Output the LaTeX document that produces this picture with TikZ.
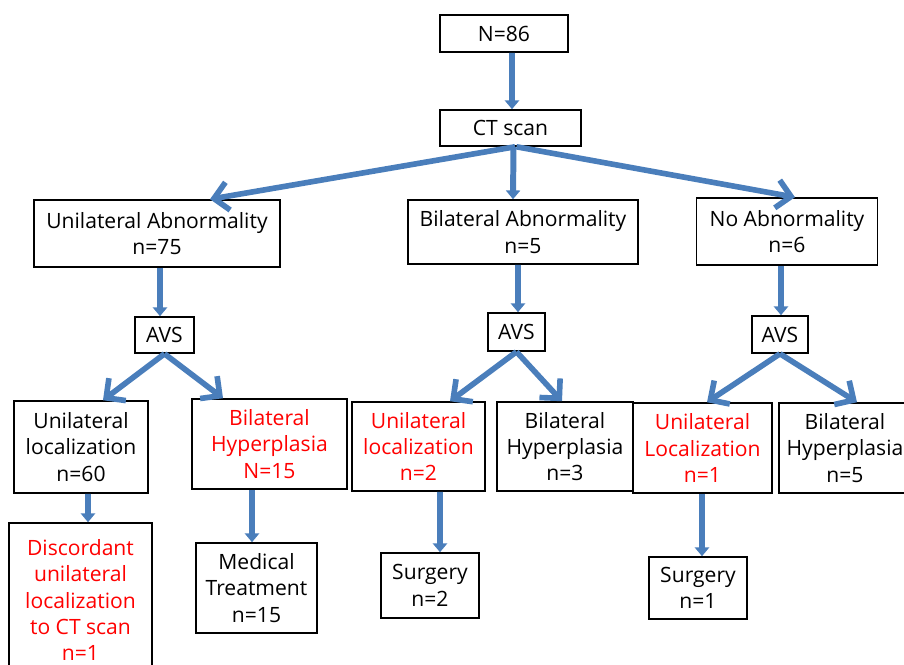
\documentclass[tikz,border=0pt]{standalone}
\usepackage{fontspec}
\setmainfont{Open Sans}
\usetikzlibrary{arrows.meta}
\definecolor{flowblue}{RGB}{74,126,187}
\definecolor{alertred}{RGB}{255,0,0}

\begin{document}
\begin{tikzpicture}[x=0.02cm, y=-0.02cm,
    box/.style={draw, line width=0.9pt, align=center, inner sep=0pt, font=\fontsize{12}{15}\selectfont},
    hot/.style={box, text=alertred},
    down/.style={draw=flowblue, line width=3.4pt, -{Triangle[length=5pt, width=8pt]}},
    fan/.style={draw=flowblue, line width=3.2pt, -{Straight Barb[length=8pt, width=16pt]}}]
    \useasboundingbox (0, 0) rectangle (904, 664);

    % nodes: top
    \node[box, minimum width=2.56cm, minimum height=0.74cm] (n) at (504, 33.5) {N=86};
    \node[box, minimum width=2.82cm, minimum height=0.72cm] (ct) at (510.5, 128) {CT scan};
    % nodes: ua ba na
    \node[box, minimum width=4.92cm, minimum height=1.34cm] (ua) at (157, 233.5) {Unilateral Abnormality\\n=75};
    \node[box, minimum width=4.6cm, minimum height=1.28cm] (ba) at (523, 232) {Bilateral Abnormality\\n=5};
    \node[box, minimum width=3.62cm, minimum height=1.34cm] (na) at (787, 231.5) {No Abnormality\\n=6};
    % nodes: avs
    \node[box, minimum width=1.18cm, minimum height=0.72cm] (avs1) at (164.5, 335) {AVS};
    \node[box, minimum width=1.14cm, minimum height=0.76cm] (avs2) at (516.5, 332) {AVS};
    \node[box, minimum width=1.12cm, minimum height=0.74cm] (avs3) at (780, 334.5) {AVS};
    % nodes: localization row
    \node[box, minimum width=2.68cm, minimum height=1.84cm] (ul1) at (81, 447) {Unilateral\\localization\\n=60};
    \node[hot, minimum width=3.1cm, minimum height=1.8cm] (bh1) at (269.5, 444) {Bilateral\\Hyperplasia\\N=15};
    \node[hot, minimum width=2.66cm, minimum height=1.78cm] (ul2) at (418.5, 446.5) {Unilateral\\localization\\n=2};
    \node[box, minimum width=2.72cm, minimum height=1.78cm] (bh2) at (565, 446.5) {Bilateral\\Hyperplasia\\n=3};
    \node[hot, minimum width=2.78cm, minimum height=1.8cm] (ul3) at (702.5, 448) {Unilateral\\Localization\\n=1};
    \node[box, minimum width=2.64cm, minimum height=1.8cm] (bh3) at (845, 448) {Bilateral\\Hyperplasia\\n=5};
    % nodes: outcome row
    \node[hot, minimum width=2.86cm, minimum height=3.08cm] (dc) at (80.5, 600) {Discordant\\unilateral\\localization\\to CT scan\\n=1};
    \node[box, minimum width=2.42cm, minimum height=1.8cm] (mt) at (256.5, 588) {Medical\\Treatment\\n=15};
    \node[box, minimum width=1.96cm, minimum height=1.3cm] (s2) at (430, 585.5) {Surgery\\n=2};
    \node[box, minimum width=1.96cm, minimum height=1.24cm] (s1) at (698, 588) {Surgery\\n=1};

    % edges: n-ct, ct-ua, ct-ba, ct-na
    \draw[down] ([shift={(8,0)}]n.south) -- ([shift={(1.5,0)}]ct.north);
    \draw[fan] ([shift={(4.5,0)}]ct.south) -- ([shift={(53,0)}]ua.north);
    \draw[down] ([shift={(3,0)}]ct.south) -- ([shift={(-10,0)}]ba.north);
    \draw[fan] ([shift={(6,0)}]ct.south) -- ([shift={(8,0)}]na.north);
    % edges: abnormality-avs
    \draw[down] ([shift={(3,0)}]ua.south) -- ([shift={(-4.5,0)}]avs1.north);
    \draw[down] ([shift={(-5,0)}]ba.south) -- ([shift={(1.5,0)}]avs2.north);
    \draw[down] ([shift={(-6,0)}]na.south) -- ([shift={(1,0)}]avs3.north);
    % edges: avs-localization
    \draw[fan] (avs1.south) -- ([shift={(22,0)}]ul1.north);
    \draw[fan] (avs1.south) -- ([shift={(-46.5,0)}]bh1.north);
    \draw[fan] (avs2.south) -- ([shift={(31.5,0)}]ul2.north);
    \draw[fan] (avs2.south) -- ([shift={(-3,0)}]bh2.north);
    \draw[fan] (avs3.south) -- ([shift={(4.5,0)}]ul3.north);
    \draw[fan] (avs3.south) -- ([shift={(12,0)}]bh3.north);
    % edges: outcomes
    \draw[down] ([shift={(7,0)}]ul1.south) -- ([shift={(7.5,0)}]dc.north);
    \draw[down] ([shift={(-17.5,0)}]bh1.south) -- ([shift={(-4.5,0)}]mt.north);
    \draw[down] ([shift={(21.5,0)}]ul2.south) -- ([shift={(10,0)}]s2.north);
    \draw[down] ([shift={(-0.5,0)}]ul3.south) -- ([shift={(4,0)}]s1.north);
\end{tikzpicture}
\end{document}
